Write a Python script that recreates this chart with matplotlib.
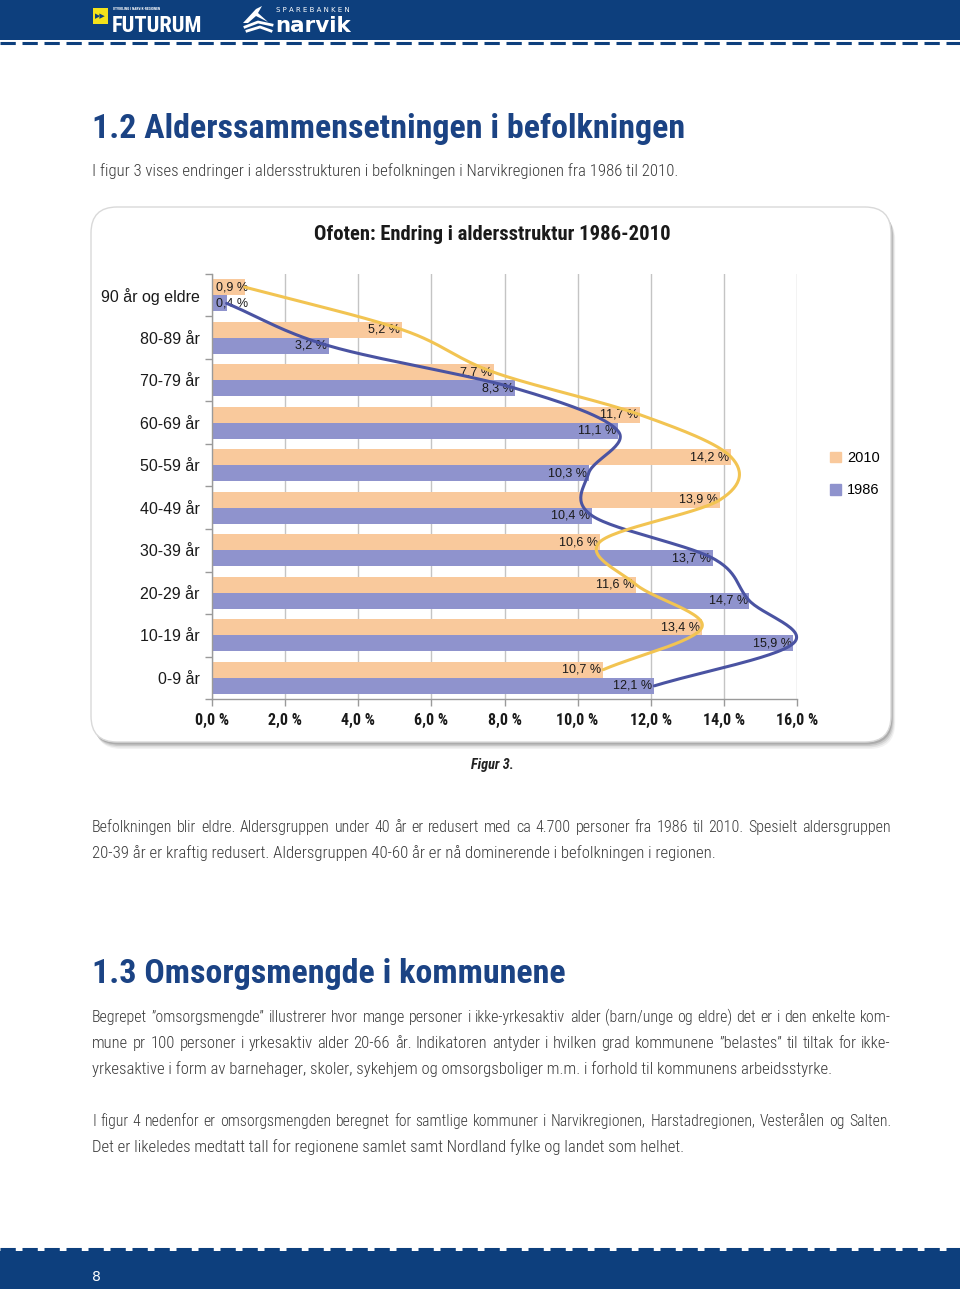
import numpy as np
import matplotlib
matplotlib.use("Agg")
import matplotlib.pyplot as plt
from matplotlib.patches import FancyBboxPatch, Rectangle, Patch, Polygon
from matplotlib import font_manager as fm

# ---------------- data ----------------
categories = ['0-9 år', '10-19 år', '20-29 år', '30-39 år', '40-49 år',
              '50-59 år', '60-69 år', '70-79 år', '80-89 år', '90 år og eldre']
values_2010 = [10.7, 13.4, 11.6, 10.6, 13.9, 14.2, 11.7, 7.7, 5.2, 0.9]
values_1986 = [12.1, 15.9, 14.7, 13.7, 10.4, 10.3, 11.1, 8.3, 3.2, 0.4]
series_labels = ['2010', '1986']
x_ticks = [0, 2, 4, 6, 8, 10, 12, 14, 16]
x_tick_labels = ['0,0 %', '2,0 %', '4,0 %', '6,0 %', '8,0 %', '10,0 %', '12,0 %', '14,0 %', '16,0 %']
chart_title = 'Ofoten: Endring i aldersstruktur 1986-2010'

heading1 = '1.2 Alderssammensetningen i befolkningen'
intro = 'I figur 3 vises endringer i aldersstrukturen i befolkningen i Narvikregionen fra 1986 til 2010.'
caption = 'Figur 3.'
para1 = ['Befolkningen blir eldre. Aldersgruppen under 40 år er redusert med ca 4.700 personer fra 1986 til 2010. Spesielt aldersgruppen',
         '20-39 år er kraftig redusert. Aldersgruppen 40-60 år er nå dominerende i befolkningen i regionen.']
heading2 = '1.3 Omsorgsmengde i kommunene'
para2 = ['Begrepet ”omsorgsmengde” illustrerer hvor mange personer i ikke-yrkesaktiv alder (barn/unge og eldre) det er i den enkelte kom-',
         'mune pr 100 personer i yrkesaktiv alder 20-66 år. Indikatoren antyder i hvilken grad kommunene ”belastes” til tiltak for ikke-',
         'yrkesaktive i form av barnehager, skoler, sykehjem og omsorgsboliger m.m. i forhold til kommunens arbeidsstyrke.']
para3 = ['I figur 4 nedenfor er omsorgsmengden beregnet for samtlige kommuner i Narvikregionen, Harstadregionen, Vesterålen og Salten.',
         'Det er likeledes medtatt tall for regionene samlet samt Nordland fylke og landet som helhet.']
page_number = '8'

# ---------------- fonts ----------------
names = {f.name for f in fm.fontManager.ttflist}
COND, STRETCH = None, 'normal'
for c in ['Roboto Condensed', 'Noto Sans Condensed', 'Liberation Sans Narrow',
          'Open Sans Condensed', 'DejaVu Sans Condensed']:
    if c in names:
        COND = c
        break
if COND is None:
    dv = [f for f in fm.fontManager.ttflist if f.name == 'DejaVu Sans'
          and str(f.stretch) not in ('normal', '500')]
    COND = 'DejaVu Sans'
    if dv:
        STRETCH = 'condensed'
ARIAL = 'Liberation Sans' if 'Liberation Sans' in names else 'DejaVu Sans'
CK = dict(family=[COND, 'DejaVu Sans'], fontstretch=STRETCH)

# ---------------- colours ----------------
PEACH = '#F9C99C'
PURPLE = '#8F93CD'
YELLOW = '#F2C452'
BLUE = '#4A53A2'
NAVY = '#0D3F7D'
HEAD = '#1B4384'
BODY = '#3a3a3a'

fig = plt.figure(figsize=(9.6, 12.89), dpi=100)
renderer = fig.canvas.get_renderer()

axp = fig.add_axes([0, 0, 1, 1])
axp.set_xlim(0, 960)
axp.set_ylim(1289, 0)
axp.axis('off')
axp.set_zorder(0)


def width_px(s, size, **kw):
    t = axp.text(0, 0, s, fontsize=size, **kw)
    w = t.get_window_extent(renderer).width
    t.remove()
    return w


def fit(s, target, **kw):
    return 10 * target / width_px(s, 10, **kw)


def put_line(s, x0, y, size, x1=None, **kw):
    if x1 is None:
        axp.text(x0, y, s, fontsize=size, va='baseline', ha='left', **kw)
        return
    words = s.split(' ')
    space = width_px('a a', size, **kw) - width_px('aa', size, **kw)
    ws = [width_px(w, size, **kw) for w in words]
    need = sum(ws) + space * 1.2 * (len(words) - 1)
    if need > (x1 - x0):
        size = size * (x1 - x0) / need * 0.995
        ws = [width_px(w, size, **kw) for w in words]
    gap = (x1 - x0 - sum(ws)) / (len(words) - 1)
    x = x0
    for w, wpx in zip(words, ws):
        axp.text(x, y, w, fontsize=size, va='baseline', ha='left', **kw)
        x += wpx + gap


# ---------------- header / footer ----------------
axp.add_patch(Rectangle((0, 0), 960, 40, color=NAVY, lw=0))
axp.plot([0, 960], [42.5, 42.5], color=NAVY, lw=2.2, dashes=(5, 2.2), solid_capstyle='butt')
axp.add_patch(Rectangle((0, 1251), 960, 38, color=NAVY, lw=0))
axp.plot([0, 960], [1248.5, 1248.5], color=NAVY, lw=2.2, dashes=(5, 2.2), solid_capstyle='butt')
axp.text(96, 1277, page_number, color='white', fontsize=10, va='center', ha='center',
         family=['DejaVu Sans'])

# Futurum logo
axp.add_patch(Rectangle((93, 8), 15, 16, color='#F3E21B', lw=0))
axp.text(100.5, 16.5, '▶▶', color=NAVY, fontsize=5, ha='center', va='center', family='DejaVu Sans')
axp.text(113, 8.5, 'UTVIKLING I NARVIK-REGIONEN', color='white', fontsize=2.6, va='center',
         ha='left', weight='bold', **CK)
fs = fit('FUTURUM', 90, weight='bold', **CK)
axp.text(112, 32, 'FUTURUM', color='white', fontsize=fs, weight='bold', va='baseline', ha='left', **CK)
# Sparebanken narvik logo
axp.add_patch(Polygon([(243, 23), (256, 9), (262, 6), (258, 13), (268, 22), (256, 16), (248, 23)],
                      closed=True, color='white', lw=0))
axp.plot([245, 258, 272], [27, 22, 25], color='white', lw=2)
axp.plot([247, 260, 271], [31, 27, 31], color='white', lw=2)
fs = fit('S P A R E B A N K E N', 74, family='DejaVu Sans')
axp.text(276, 10, 'S P A R E B A N K E N', color='white', fontsize=fs, va='center', ha='left',
         family='DejaVu Sans')
fs = fit('narvik', 76, family='DejaVu Sans', weight='bold')
axp.text(275, 32, 'narvik', color='white', fontsize=fs, va='baseline', ha='left',
         family='DejaVu Sans', weight='bold')

# ---------------- headings & body text ----------------
fs_h = fit(heading1, 593, weight='bold', **CK)
axp.text(92, 138, heading1, color=HEAD, fontsize=fs_h, weight='bold', va='baseline', ha='left', **CK)
axp.text(92, 983, heading2, color=HEAD, fontsize=fs_h, weight='bold', va='baseline', ha='left', **CK)

fs_b = fit(intro, 588, weight='light', **CK)
BK = dict(color=BODY, weight='light', **CK)
put_line(intro, 92, 176, fs_b, **BK)
put_line(para1[0], 92, 832, fs_b, x1=891, **BK)
put_line(para1[1], 92, 858, fs_b, **BK)
put_line(para2[0], 92, 1022, fs_b, x1=891, **BK)
put_line(para2[1], 92, 1048, fs_b, x1=891, **BK)
put_line(para2[2], 92, 1074, fs_b, **BK)
put_line(para3[0], 92, 1126, fs_b, x1=891, **BK)
put_line(para3[1], 92, 1152, fs_b, **BK)

axp.text(492, 769, caption, color='#222222', fontsize=fs_b * 0.85, style='italic', weight='bold',
         va='baseline', ha='center', **CK)

# ---------------- chart card ----------------
for i, a in enumerate([0.05, 0.07, 0.10, 0.14]):
    off = 7 - i * 1.5
    axp.add_patch(FancyBboxPatch((91 + off * 0.6, 207 + off), 800, 535,
                                 boxstyle='round,pad=0,rounding_size=26',
                                 facecolor='black', edgecolor='none', alpha=a, zorder=1))
axp.add_patch(FancyBboxPatch((91, 207), 800, 535, boxstyle='round,pad=0,rounding_size=26',
                             facecolor='white', edgecolor='#d9d9d9', lw=1, zorder=2))
fs_t = fit(chart_title, 358, weight='bold', **CK)
axp.text(492, 240, chart_title, color='#1a1a1a', fontsize=fs_t, weight='bold',
         va='baseline', ha='center', zorder=3, **CK)

# ---------------- chart ----------------
axc = fig.add_axes([212 / 960, (1289 - 699) / 1289, 585 / 960, 425 / 1289])
axc.set_zorder(2)
axc.set_facecolor('none')
y = np.arange(len(categories))
off = 0.19
h = 0.38
axc.barh(y + off, values_2010, height=h, color=PEACH, zorder=2)
axc.barh(y - off, values_1986, height=h, color=PURPLE, zorder=2)

for vals, dy in [(values_2010, off), (values_1986, -off)]:
    for yi, v in zip(y, vals):
        lab = f'{v:.1f} %'.replace('.', ',')
        if v < 2:
            axc.text(0.1, yi + dy, lab, ha='left', va='center', fontsize=9,
                     color='#1a1a1a', family=ARIAL, zorder=4)
        else:
            axc.text(v - 0.05, yi + dy, lab, ha='right', va='center', fontsize=9,
                     color='#1a1a1a', family=ARIAL, zorder=4)


def catmull(px, py, n=30):
    P = np.column_stack([px, py]).astype(float)
    P = np.vstack([2 * P[0] - P[1], P, 2 * P[-1] - P[-2]])
    out = []
    t = np.linspace(0, 1, n, endpoint=False)[:, None]
    for i in range(1, len(P) - 2):
        p0, p1, p2, p3 = P[i - 1], P[i], P[i + 1], P[i + 2]
        seg = 0.5 * ((2 * p1) + (-p0 + p2) * t + (2 * p0 - 5 * p1 + 4 * p2 - p3) * t ** 2
                     + (-p0 + 3 * p1 - 3 * p2 + p3) * t ** 3)
        out.append(seg)
    out.append(P[-2][None, :])
    return np.vstack(out)


c10 = catmull(values_2010, y + off)
c86 = catmull(values_1986, y - off)
axc.plot(c86[:, 0], c86[:, 1], color=BLUE, lw=2.2, zorder=5, clip_on=False, solid_capstyle='round')
axc.plot(c10[:, 0], c10[:, 1], color=YELLOW, lw=2.2, zorder=5, clip_on=False, solid_capstyle='round')

axc.set_xlim(0, 16)
axc.set_ylim(-0.5, len(categories) - 0.5)
axc.set_xticks(x_ticks)
axc.set_xticklabels(x_tick_labels)
for lab in axc.get_xticklabels():
    lab.set_fontfamily(CK['family'])
    lab.set_fontstretch(STRETCH)
    lab.set_fontweight('bold')
    lab.set_fontsize(11.5)
    lab.set_color('#1a1a1a')
axc.set_yticks(y)
axc.set_yticklabels(categories, family=ARIAL, fontsize=11.5, color='#1a1a1a')
axc.set_yticks(np.arange(-0.5, len(categories), 1.0), minor=True)
axc.tick_params(axis='y', which='major', length=0, pad=9)
axc.tick_params(axis='y', which='minor', length=5, direction='out', color='#9a9a9a', width=1)
axc.tick_params(axis='x', which='major', length=5, direction='out', color='#9a9a9a', width=1, pad=5)
axc.grid(axis='x', color='#c4c4c4', lw=1, zorder=0)
axc.set_axisbelow(True)
for s in ['top', 'right']:
    axc.spines[s].set_visible(False)
for s in ['left', 'bottom']:
    axc.spines[s].set_color('#9a9a9a')
    axc.spines[s].set_linewidth(1)

fig.legend(handles=[Patch(color=PEACH, label=series_labels[0]),
                    Patch(color=PURPLE, label=series_labels[1])],
           loc='upper left', bbox_to_anchor=(817 / 960, 1 - 438 / 1289), frameon=False,
           handlelength=0.75, handleheight=0.75, handletextpad=0.4, labelspacing=1.25,
           prop={'family': ARIAL, 'size': 10.5})

fig.savefig('out.png', dpi=100)
